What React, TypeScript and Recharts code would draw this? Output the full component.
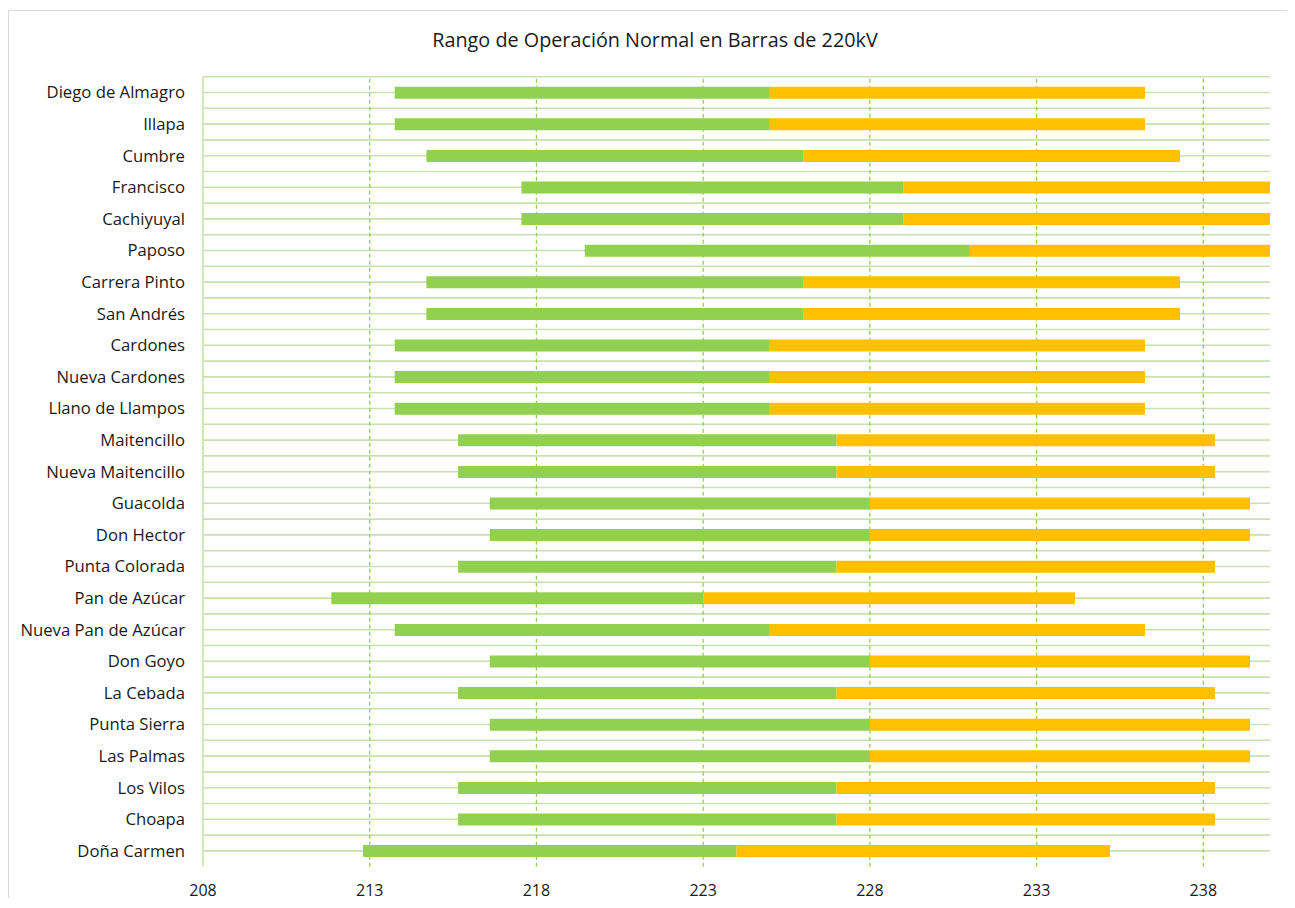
import React from 'react';
import { BarChart, Bar, XAxis, YAxis, ReferenceLine } from 'recharts';

// Substations (top to bottom) and their normal operating band in kV
const stations = [
  'Diego de Almagro',
  'Illapa',
  'Cumbre',
  'Francisco',
  'Cachiyuyal',
  'Paposo',
  'Carrera Pinto',
  'San Andrés',
  'Cardones',
  'Nueva Cardones',
  'Llano de Llampos',
  'Maitencillo',
  'Nueva Maitencillo',
  'Guacolda',
  'Don Hector',
  'Punta Colorada',
  'Pan de Azúcar',
  'Nueva Pan de Azúcar',
  'Don Goyo',
  'La Cebada',
  'Punta Sierra',
  'Las Palmas',
  'Los Vilos',
  'Choapa',
  'Doña Carmen',
];

const lowerLimit = [
  213.75, 213.75, 214.7, 217.55, 217.55, 219.45, 214.7, 214.7, 213.75, 213.75,
  213.75, 215.65, 215.65, 216.6, 216.6, 215.65, 211.85, 213.75, 216.6, 215.65,
  216.6, 216.6, 215.65, 215.65, 212.8,
];

const nominal = [
  225, 225, 226, 229, 229, 231, 226, 226, 225, 225,
  225, 227, 227, 228, 228, 227, 223, 225, 228, 227,
  228, 228, 227, 227, 224,
];

const upperLimit = [
  236.25, 236.25, 237.3, 240.45, 240.45, 242.55, 237.3, 237.3, 236.25, 236.25,
  236.25, 238.35, 238.35, 239.4, 239.4, 238.35, 234.15, 236.25, 239.4, 238.35,
  239.4, 239.4, 238.35, 238.35, 235.2,
];

const xTicks = [208, 213, 218, 223, 228, 233, 238];
const xDomain: [number, number] = [208, 240];
// dashed guides at every labelled value except the axis origin
const xGuides = xTicks.slice(1);

const rows = stations.map((name, i) => ({
  name,
  base: lowerLimit[i],
  below: nominal[i] - lowerLimit[i],
  above: upperLimit[i] - nominal[i],
}));

const FONT = '"Open Sans", "Liberation Sans", sans-serif';
const GREEN = '#92D050';
const ORANGE = '#FFC000';
const RULE = '#C9E1AE';

export default function App() {
  const lastStation = stations[stations.length - 1];
  return (
    <div
      style={{
        marginTop: 2,
        marginBottom: -8,
        width: 1279,
        height: 896,
        boxSizing: 'border-box',
        borderLeft: '1px solid #D9D9D9',
        borderTop: '1px solid #D9D9D9',
        position: 'relative',
        background: '#fff',
        overflow: 'hidden',
        fontFamily: FONT,
      }}
    >
      <div
        style={{
          position: 'absolute',
          left: 646,
          top: 19,
          transform: 'translateX(-50%)',
          whiteSpace: 'nowrap',
          fontSize: 19.8,
          lineHeight: '20px',
          color: '#1a1a1a',
        }}
      >
        Rango de Operación Normal en Barras de 220kV
      </div>
      <BarChart
        width={1278}
        height={895}
        data={rows}
        layout="vertical"
        margin={{ top: 65.7, right: 17, bottom: 9.3, left: 0 }}
        style={{ fontFamily: FONT }}
      >
        <XAxis
          type="number"
          domain={xDomain}
          ticks={xTicks}
          interval={0}
          allowDataOverflow
          axisLine={false}
          tickLine={false}
          tickMargin={12}
          height={30}
          tick={{ fontSize: 16, fill: '#1a1a1a' }}
        />
        <YAxis
          type="category"
          dataKey="name"
          width={194}
          axisLine={{ stroke: RULE, strokeWidth: 1.6 }}
          tickLine={false}
          tickMargin={12}
          interval={0}
          tick={{ fontSize: 16.7, fill: '#1a1a1a' }}
        />
        {/* rules through each row centre */}
        {stations.map((s) => (
          <ReferenceLine key={`mid-${s}`} y={s} stroke={RULE} strokeWidth={1.6} zIndex={-100} />
        ))}
        {/* rules along each row's upper edge, plus the bottom edge */}
        {stations.map((s) => (
          <ReferenceLine
            key={`edge-${s}`}
            y={s}
            position="start"
            stroke={RULE}
            strokeWidth={1.6}
            zIndex={-100}
          />
        ))}
        <ReferenceLine y={lastStation} position="end" stroke={RULE} strokeWidth={1.6} zIndex={-100} />
        {xGuides.map((v) => (
          <ReferenceLine
            key={`guide-${v}`}
            x={v}
            stroke={GREEN}
            strokeWidth={1.3}
            strokeDasharray="4 3"
            zIndex={-90}
          />
        ))}
        <Bar dataKey="base" stackId="band" fill="transparent" barSize={12} isAnimationActive={false} />
        <Bar dataKey="below" stackId="band" fill={GREEN} barSize={12} isAnimationActive={false} />
        <Bar dataKey="above" stackId="band" fill={ORANGE} barSize={12} isAnimationActive={false} />
      </BarChart>
    </div>
  );
}
